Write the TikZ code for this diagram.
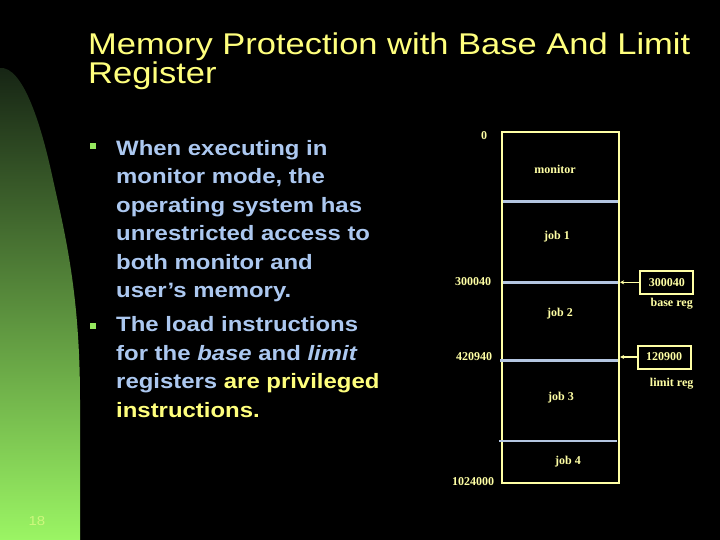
\documentclass[tikz,border=0pt]{standalone}
\usepackage{fontspec}
\setmainfont{Liberation Serif}
\newfontfamily\slidefont[FakeStretch=1.15]{Liberation Sans}
\usetikzlibrary{arrows.meta}
\definecolor{titleyellow}{RGB}{255,255,125}
\definecolor{paleyellow}{RGB}{255,255,165}
\definecolor{textblue}{RGB}{172,200,240}
\definecolor{dividerblue}{RGB}{180,198,225}
\definecolor{bulletgreen}{RGB}{150,232,95}
\definecolor{darkgreen}{RGB}{22,36,20}
\definecolor{midgreen}{RGB}{92,155,62}
\definecolor{lightgreen}{RGB}{155,245,100}
\definecolor{pagegreen}{RGB}{205,248,125}

\begin{document}
\begin{tikzpicture}[x=1pt,y=-1pt,
  memtext/.style={text=paleyellow,inner sep=0pt,font=\bfseries\fontsize{12}{12}\selectfont},
  regbox/.style={draw=paleyellow,line width=2pt,minimum height=23pt,minimum width=53pt,inner sep=0pt,memtext},
  divider/.style={draw=dividerblue,line width=2.6pt},
  bullettext/.style={anchor=base west,inner sep=0pt,align=left,text=textblue,
    font=\slidefont\bfseries\fontsize{20.8}{28.5}\selectfont},
  bulletsq/.style={fill=bulletgreen,minimum size=6pt,inner sep=0pt}]

% background
\fill[black] (0,0) rectangle (720,540);
\useasboundingbox (0,0) rectangle (720,540);
\fill[top color=darkgreen,middle color=midgreen,bottom color=lightgreen]
(0,68)
.. controls (22,66) and (40,120) .. (52,175)
.. controls (64,230) and (80,290) .. (80,400)
-- (80,540) -- (0,540) -- cycle;
\node[text=pagegreen,inner sep=0pt,font=\slidefont\fontsize{13}{13}\selectfont] (pagenum) at (37,521) {18};

% title (base = last line)
\node[anchor=base west,inner sep=0pt,align=left,text=titleyellow,
  font=\slidefont\fontsize{30}{26.5}\selectfont] (title) at (88,83.3)
  {Memory Protection with Base And Limit\\Register};

% bullets
\node[bulletsq] (dot1) at (93,146) {};
\node[bullettext] (item1) at (116,297.7) {When executing in\\monitor mode, the\\operating system has\\unrestricted access to\\both monitor and\\user’s memory.};
\node[bulletsq] (dot2) at (93,325.5) {};
\node[bullettext] (item2) at (116,417.3) {The load instructions\\for the \textit{base} and \textit{limit}\\registers \textcolor{titleyellow}{are privileged}\\\textcolor{titleyellow}{instructions.}};

% memory
\node[draw=paleyellow,line width=2.2pt,minimum width=117pt,minimum height=351pt,inner sep=0pt] (mem) at (560.5,307.2) {};
\draw[divider] (503,201.7) -- (618,201.7);
\draw[divider] (503,282.3) -- (618,282.3);
\draw[divider] (500,360.7) -- (618,360.7);
\draw[divider] (499,441) -- (616.5,441);
\node[memtext] (monitor) at (555,169) {monitor};
\node[memtext] (job1) at (557,237) {job 1};
\node[memtext] (job2) at (560,314) {job 2};
\node[memtext] (job3) at (561,398) {job 3};
\node[memtext] (job4) at (568,462) {job 4};
\node[memtext] (addr0) at (484,136) {0};
\node[memtext] (addrbase) at (473,282) {300040};
\node[memtext] (addrlimit) at (474,357) {420940};
\node[memtext] (addrend) at (473,482) {1024000};

% registers
\node[regbox] (basereg) at (666.8,282.3) {300040};
\node[memtext] (baselabel) at (671.7,303.7) {base reg};
\node[regbox] (limitreg) at (664,357) {120900};
\node[memtext] (limitlabel) at (671.7,383.3) {limit reg};
\draw[paleyellow,line width=1.6pt,-{Stealth[length=4pt,width=4pt]}] (basereg.west) -- (mem.east |- basereg.west);
\draw[paleyellow,line width=1.6pt,-{Stealth[length=4pt,width=4pt]}] (limitreg.west) -- (mem.east |- limitreg.west);
\end{tikzpicture}
\end{document}
